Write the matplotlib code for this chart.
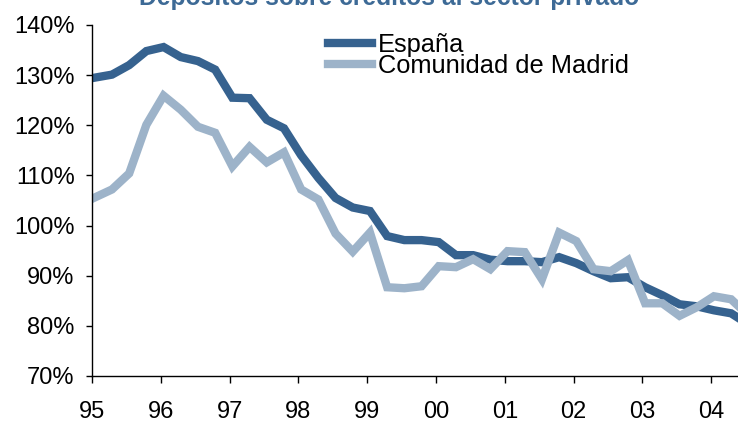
import numpy as np
import matplotlib.pyplot as plt

plt.rcParams['font.family'] = ['Liberation Sans', 'DejaVu Sans']

# quarterly ratio, 1995Q1 .. 2004Q3 (%)
espana = [129.5, 130.1, 132.0, 134.8, 135.6, 133.6, 132.8, 131.1,
          125.5, 125.4, 121.1, 119.4, 114.0, 109.5, 105.5, 103.6,
          102.9, 97.9, 97.1, 97.1, 96.7, 94.1, 94.1, 93.2,
          92.9, 92.9, 92.7, 93.7, 92.5, 90.9, 89.5, 89.7,
          87.7, 86.1, 84.3, 83.9, 83.1, 82.5, 80.3]
madrid = [105.6, 107.2, 110.4, 120.1, 125.9, 123.1, 119.7, 118.5,
          111.8, 115.7, 112.6, 114.6, 107.2, 105.2, 98.4, 94.8,
          98.6, 87.7, 87.5, 87.9, 91.9, 91.7, 93.3, 91.3,
          94.9, 94.7, 89.3, 98.6, 96.9, 91.3, 90.9, 93.1,
          84.5, 84.5, 82.0, 83.7, 85.9, 85.3, 82.1]
year_labels = ['95', '96', '97', '98', '99', '00', '01', '02', '03', '04']
title = 'Depósitos sobre créditos al sector privado'

dark = '#36628f'
light = '#9db3c9'

x = 1995 + np.arange(len(espana)) * 0.25 + 0.04

fig = plt.figure(figsize=(7.38, 4.25), dpi=100)
ax = fig.add_axes([0.1247, 0.1153, 0.8753, 0.8259])

ax.plot(x, espana, color=dark, lw=6, solid_joinstyle='miter', label='España')
ax.plot(x, madrid, color=light, lw=6, solid_joinstyle='miter', label='Comunidad de Madrid')

ax.set_xlim(1995, 2004.39)
ax.set_ylim(70, 140)
ax.set_xticks(np.arange(1995, 1995 + len(year_labels)))
ax.set_xticklabels(year_labels)
ax.set_yticks(np.arange(70, 141, 10))
ax.set_yticklabels([f'{v}%' for v in range(70, 141, 10)])

ax.spines['top'].set_visible(False)
ax.spines['right'].set_visible(False)
for s in ('left', 'bottom'):
    ax.spines[s].set_linewidth(1.0)
ax.tick_params(axis='y', direction='out', length=4.5, width=1, labelsize=17, pad=8)
ax.tick_params(axis='x', direction='out', length=5, width=1, labelsize=17, pad=13)

ax.legend(loc='upper left', bbox_to_anchor=(328 / 738, 1 - 33 / 425),
          bbox_transform=fig.transFigure, frameon=False, fontsize=18.3,
          handlelength=1.75, handletextpad=0.22, labelspacing=-0.12,
          borderpad=0, borderaxespad=0)

fig.text(389 / 738, 1 - 4.5 / 425, title, ha='center', va='baseline',
         fontsize=17.7, fontweight='bold', color='#3d6a96')

fig.savefig('out.png', dpi=100)
